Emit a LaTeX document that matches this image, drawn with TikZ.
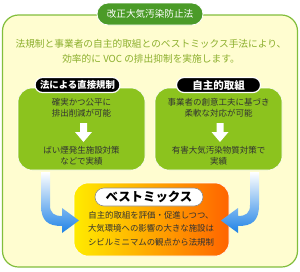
\documentclass[tikz,border=0pt]{standalone}
\usepackage{fontspec}
\setmainfont{Noto Sans CJK JP}
\usetikzlibrary{positioning}
\definecolor{rahmen}{RGB}{130,190,60}
\definecolor{grund}{RGB}{255,253,208}
\definecolor{titel}{RGB}{75,155,40}
\definecolor{einl}{RGB}{140,175,45}
\definecolor{gruen}{RGB}{140,195,30}
\definecolor{blau}{RGB}{30,130,230}
\definecolor{orng}{RGB}{255,100,0}
\definecolor{gelb}{RGB}{255,235,0}
\definecolor{schrift}{RGB}{50,50,50}
\tikzset{
  marco/.style={draw=rahmen, line width=1.2pt, fill=grund, rounded corners=16pt,
    minimum width=295pt, minimum height=252pt},
  titulo/.style={fill=titel, draw=white, line width=0.8pt, rounded corners=11pt,
    minimum width=106pt, minimum height=22pt, text=white,
    font=\fontsize{9.6}{11}\selectfont},
  caja/.style={fill=gruen, draw=white, line width=0.6pt, rounded corners=14pt,
    minimum width=127pt, minimum height=82pt},
  etiqueta/.style={fill=black, draw=white, line width=1.2pt, rounded corners=7.5pt,
    minimum height=15pt, inner xsep=5pt, text=white,
    font=\fontsize{9.4}{11}\selectfont\bfseries},
  mezcla/.style={left color=gelb, right color=orng, draw=white, line width=0.6pt,
    rounded corners=14pt, minimum width=155pt, minimum height=73pt},
  blanca/.style={fill=white, draw=black!45, line width=0.6pt, rounded corners=9pt,
    minimum width=108pt, minimum height=18pt, text=black,
    font=\fontsize{12.4}{14}\selectfont\bfseries},
  texto/.style={align=center, text=schrift, font=\fontsize{8.5}{11}\selectfont},
  flecha/.style={top color=white, middle color=blau, bottom color=blau}
}
\begin{document}
\begin{tikzpicture}[x=1pt, y=-1pt, every node/.style={inner sep=0pt}]
    \useasboundingbox (0,0) rectangle (300,271);
    % Marco exterior y titulo
    \node[marco] (marco) at (150,141) {};
    \node[titulo] (titulo) at (150,14) {改正大気汚染防止法};
    \node[align=center, text=einl, font=\fontsize{9.7}{15}\selectfont] (intro) at (151,51.5)
        {法規制と事業者の自主的取組とのベストミックス手法により、\\効率的に VOC の排出抑制を実施します。};
    % Cajas verdes
    \node[caja] (izq) at (81.5,129) {};
    \node[caja] (der) at (218.5,129) {};
    \node[etiqueta] (etiq-izq) at (77.5,85) {法による直接規制};
    \node[etiqueta, minimum width=84pt, font=\fontsize{10.5}{12}\selectfont\bfseries] (etiq-der) at (218.5,85) {自主的取組};
    \node[texto] (izq-a) at (81.5,107.5) {確実かつ公平に\\排出削減が可能};
    \node[texto] (izq-b) at (81.5,155.5) {ばい煙発生施設対策\\などで実績};
    \node[texto] (der-a) at (218.5,107.5) {事業者の創意工夫に基づき\\柔軟な対応が可能};
    \node[texto] (der-b) at (218.5,155.5) {有害大気汚染物質対策で\\実績};
    % Flechas blancas
    \foreach \c in {83.5, 220} {
        \fill[white] (\c-3.5,123) -- (\c+3.5,123) -- (\c+3.5,132) -- (\c+8.5,132)
            -- (\c,142) -- (\c-8.5,132) -- (\c-3.5,132) -- cycle;
    }
    % Caja de la mezcla
    \node[mezcla] (mezcla) at (151.5,219.5) {};
    \node[blanca] (etiq-mezcla) at (149,197) {ベストミックス};
    \node[texto, font=\fontsize{8.4}{13.5}\selectfont] (mezcla-txt) at (151,228.5)
        {自主的取組を評価・促進しつつ、\\大気環境への影響の大きな施設は\\シビルミニマムの観点から法規制};
    % Flechas azules
    \shade[flecha] (41,172) -- (41,205) .. controls (41,221) and (48,226) .. (62,226)
        -- (62,233) -- (79,220.5) -- (62,208) -- (62,216)
        .. controls (54,216) and (50,213) .. (50,205) -- (50,172) -- cycle;
    \shade[flecha] (259,172) -- (259,205) .. controls (259,221) and (252,226) .. (238,226)
        -- (238,233) -- (221,220.5) -- (238,208) -- (238,216)
        .. controls (246,216) and (250,213) .. (250,205) -- (250,172) -- cycle;
\end{tikzpicture}
\end{document}
